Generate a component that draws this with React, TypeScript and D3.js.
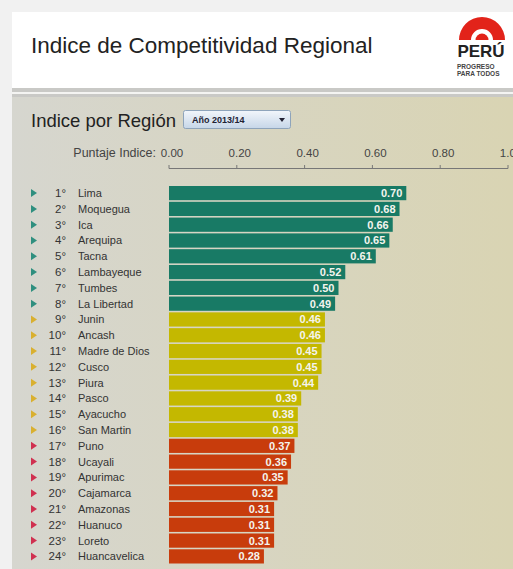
import React from 'react';
import * as d3 from 'd3';

// ranking data
const regions = ['Lima', 'Moquegua', 'Ica', 'Arequipa', 'Tacna', 'Lambayeque', 'Tumbes', 'La Libertad',
  'Junin', 'Ancash', 'Madre de Dios', 'Cusco', 'Piura', 'Pasco', 'Ayacucho', 'San Martin',
  'Puno', 'Ucayali', 'Apurimac', 'Cajamarca', 'Amazonas', 'Huanuco', 'Loreto', 'Huancavelica'];
const scores = [0.70, 0.68, 0.66, 0.65, 0.61, 0.52, 0.50, 0.49,
  0.46, 0.46, 0.45, 0.45, 0.44, 0.39, 0.38, 0.38,
  0.37, 0.36, 0.35, 0.32, 0.31, 0.31, 0.31, 0.28];
const groups = ['alto', 'alto', 'alto', 'alto', 'alto', 'alto', 'alto', 'alto',
  'medio', 'medio', 'medio', 'medio', 'medio', 'medio', 'medio', 'medio',
  'bajo', 'bajo', 'bajo', 'bajo', 'bajo', 'bajo', 'bajo', 'bajo'];
const ticks = [0, 0.2, 0.4, 0.6, 0.8, 1.0];

const W = 513, H = 569;
const font = "'Liberation Sans', Arial, sans-serif";

const App = () => {
  const x = d3.scaleLinear().domain([0, 1]).range([169, 508]);
  const y = d3.scaleBand().domain(regions).range([186, 563.5]).paddingInner(0.1);
  const barColor = d3.scaleOrdinal<string, string>().domain(['alto', 'medio', 'bajo'])
    .range(['#187a65', '#c4b800', '#c83c0c']);
  const arrowColor = d3.scaleOrdinal<string, string>().domain(['alto', 'medio', 'bajo'])
    .range(['#2f8f7f', '#d9b030', '#d03050']);

  // logo arch
  const arch = d3.arc()({ innerRadius: 11, outerRadius: 23, startAngle: -Math.PI / 2, endAngle: Math.PI / 2 }) as string;
  const dot = d3.arc()({ innerRadius: 0, outerRadius: 6.5, startAngle: -Math.PI / 2, endAngle: Math.PI / 2 }) as string;

  return (
    <div style={{ position: 'absolute', left: 0, top: 0 }}>
      <svg width={W} height={H} style={{ display: 'block', fontFamily: font }}>
        <defs>
          <linearGradient id="panel" x1="0" x2="1" y1="0" y2="0">
            <stop offset="0" stopColor="#d6d6cf" />
            <stop offset="1" stopColor="#d9d4b3" />
          </linearGradient>
          <linearGradient id="drop" x1="0" x2="0" y1="0" y2="1">
            <stop offset="0" stopColor="#f2f6fb" />
            <stop offset="1" stopColor="#c6d6e8" />
          </linearGradient>
        </defs>
        <rect width={W} height={H} fill="#f1f1f1" />
        {/* header */}
        <rect x={12} y={12} width={W - 12} height={76} fill="#ffffff" />
        <text x={31} y={53} fontSize={22.5} fill="#222">Indice de Competitividad Regional</text>
        <g transform="translate(482,40)">
          <path d={arch} fill="#e2231a" />
          <path d={dot} fill="#e2231a" />
        </g>
        <text x={481} y={57} fontSize={17} fontWeight="bold" textAnchor="middle" fill="#222">PERÚ</text>
        <text x={457} y={69} fontSize={6.5} fontWeight="bold" fill="#444">PROGRESO</text>
        <text x={457} y={76} fontSize={6.5} fontWeight="bold" fill="#444">PARA TODOS</text>
        {/* stripes */}
        <rect x={12} y={88} width={W - 12} height={9} fill="#c9c9c6" />
        <rect x={12} y={92} width={W - 12} height={2} fill="#f4f4f2" />
        {/* panel */}
        <rect x={12} y={97} width={W - 12} height={H - 97} fill="url(#panel)" />
        <text x={31} y={127} fontSize={18.5} fill="#222">Indice por Región</text>
        <rect x={183.5} y={110.5} width={107} height={18} rx={2} fill="url(#drop)" stroke="#8ea4bb" />
        <text x={192} y={123} fontSize={9} fontWeight="bold" fill="#223">Año 2013/14</text>
        <path d="M279,118 L285,118 L282,122 Z" fill="#223" />
        {/* axis */}
        <text x={156} y={157} fontSize={12.5} textAnchor="end" fill="#444">Puntaje Indice:</text>
        {ticks.map(t => (
          <g key={t}>
            <text x={x(t) + 3} y={157} fontSize={11.5} textAnchor="middle" fill="#444">{t.toFixed(2)}</text>
            <line x1={x(t)} x2={x(t)} y1={165} y2={168.5} stroke="#777" />
          </g>
        ))}
        <line x1={x(0)} x2={x(1)} y1={168.5} y2={168.5} stroke="#777" />
        {/* rows */}
        {regions.map((r, i) => {
          const top = y(r) as number;
          const bw = y.bandwidth();
          const cy = top + bw / 2;
          return (
            <g key={r}>
              <path d={`M31,${cy - 4} L37,${cy} L31,${cy + 4} Z`} fill={arrowColor(groups[i])} />
              <text x={66} y={cy + 4} fontSize={11.5} textAnchor="end" fill="#333">{`${i + 1}°`}</text>
              <text x={78} y={cy + 4} fontSize={11} fill="#333">{r}</text>
              <rect x={x(0)} y={top} width={x(scores[i]) - x(0)} height={bw} fill={barColor(groups[i])} />
              <text x={x(scores[i]) - 4} y={cy + 4} fontSize={11} fontWeight="bold" textAnchor="end" fill="#f4f4ee">{scores[i].toFixed(2)}</text>
            </g>
          );
        })}
      </svg>
    </div>
  );
};

export default App;
